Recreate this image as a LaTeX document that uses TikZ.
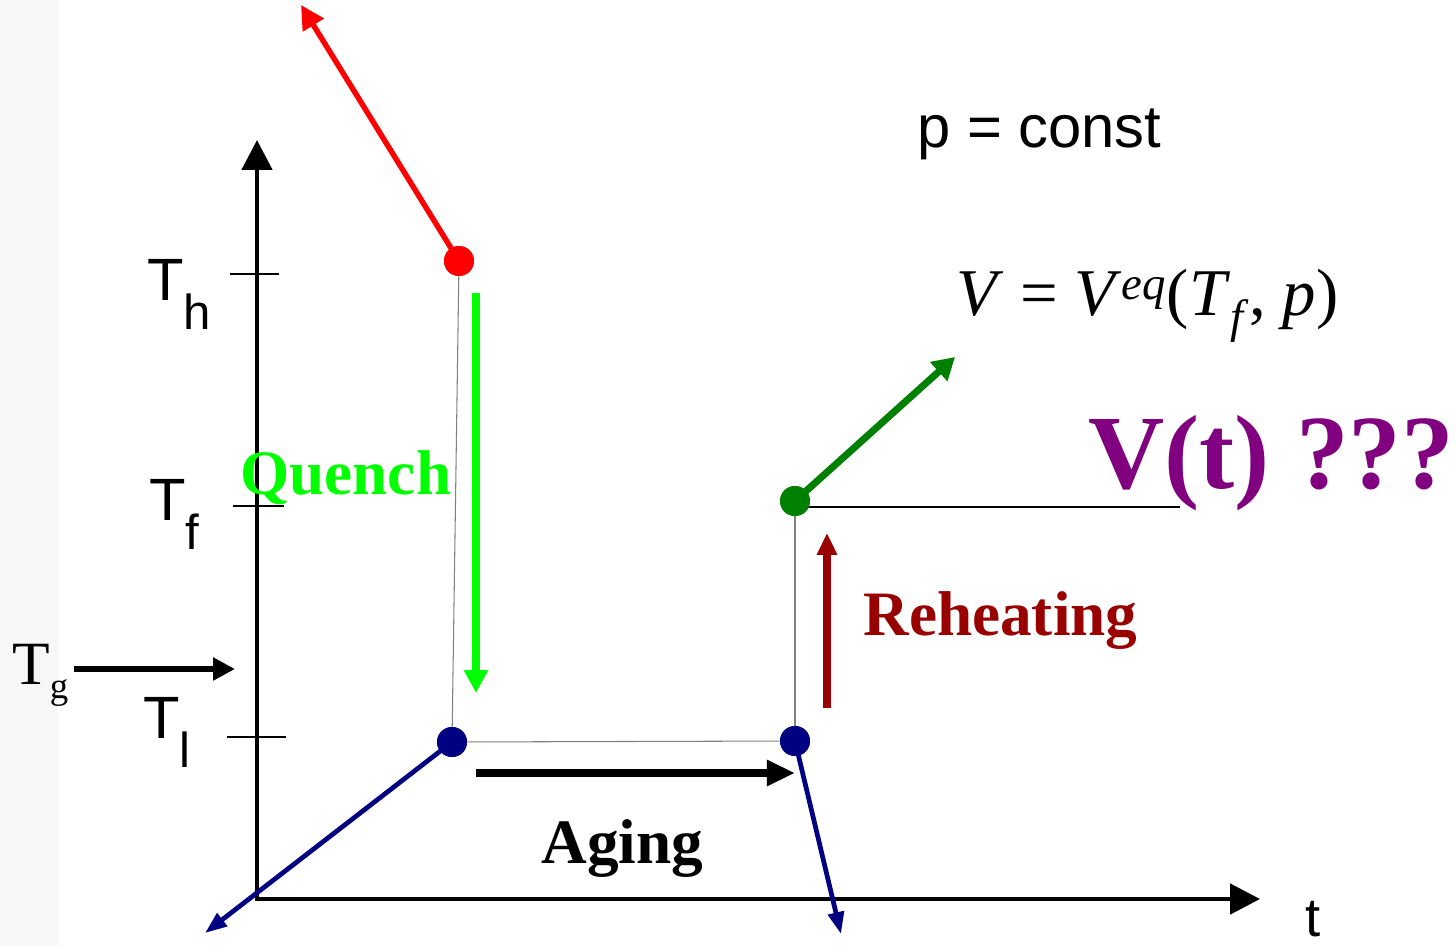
\documentclass[tikz,border=0pt]{standalone}
\usepackage{fontspec}
\setmainfont{Liberation Serif}
\setsansfont{Liberation Sans}
\usetikzlibrary{arrows.meta}
\definecolor{quenchgreen}{RGB}{0,255,0}
\definecolor{eqgreen}{RGB}{0,128,0}
\definecolor{agednavy}{RGB}{0,0,128}
\definecolor{reheatred}{RGB}{153,0,0}
\definecolor{vpurple}{RGB}{128,0,128}
\definecolor{stripgray}{RGB}{247,247,247}
\newcommand{\lowsub}[2]{#1\raisebox{-17pt}{\fontsize{28}{28}\selectfont #2}}

\begin{document}
\begin{tikzpicture}[x=0.02cm, y=-0.02cm,
  dot/.style={circle, fill=#1, inner sep=0pt, minimum size=0.6cm},
  guide/.style={gray, line width=0.6pt},
  tickmark/.style={black, line width=0.6pt},
  axisline/.style={line width=2.8pt, line cap=rect, -{Triangle[length=17pt,width=17pt]}},
  lbl/.style={font=\bfseries\fontsize{36}{36}\selectfont, inner sep=0pt, anchor=base west},
  templbl/.style={font=\sffamily\fontsize{34}{34}\selectfont, inner sep=0pt, anchor=base west}]
  \fill[white] (0,0) rectangle (1456,946);
  \fill[stripgray] (0,0) rectangle (58,946);
  \useasboundingbox (0,0) rectangle (1456,946);

  \coordinate (origin) at (257,899);
  \coordinate (yend) at (257,140);
  \coordinate (xend) at (1260,899);
  \draw[axisline] (origin) -- (yend);
  \draw[axisline] (origin) -- (xend);
  \node[templbl, font=\sffamily\fontsize{31}{31}\selectfont] (tlbl) at (1305,936) {t};

  \draw[tickmark] (230,274) -- (279,274);
  \draw[tickmark] (233,506) -- (284,506);
  \draw[tickmark] (227,737) -- (286,737);
  \node[templbl] (Th) at (147,300) {\lowsub{T}{h}};
  \node[templbl] (Tf) at (149,520) {\lowsub{T}{f}};
  \node[templbl] (Tl) at (143,738) {\lowsub{T}{l}};

  \node[font=\fontsize{35}{35}\selectfont, inner sep=0pt, anchor=base west] (Tg) at (12,684) {T\raisebox{-8pt}{\fontsize{21}{21}\selectfont g}};
  \coordinate (Tgtip) at (235,669);
  \draw[line width=3.4pt, -{Triangle[length=12.5pt,width=12.5pt]}] ([xshift=3pt]Tg.east |- Tgtip) -- (Tgtip);

  \node[dot=red] (hotdot) at (459,261) {};
  \node[dot=agednavy] (quenchdot) at (452,742) {};
  \node[dot=agednavy] (ageddot) at (795,741) {};
  \node[dot=eqgreen] (eqdot) at (795,501) {};
  \coordinate (hotend) at (301,5);
  \coordinate (quenchend) at (205,933);
  \coordinate (agedend) at (841,934);
  \coordinate (eqend) at (955,357);
  \coordinate (eqline) at (1180,507);

  \draw[guide] (hotdot) -- (quenchdot);
  \draw[guide] (quenchdot) -- (ageddot);
  \draw[guide] (ageddot) -- (eqdot);
  \draw[tickmark] (eqdot.center |- eqline) -- (eqline);

  \draw[red, line width=3.1pt, -{Triangle[length=13.5pt,width=13.5pt]}] (hotdot.center) -- (hotend);
  \draw[agednavy, line width=2.7pt, -{Triangle[length=12.5pt,width=9pt]}] (quenchdot.center) -- (quenchend);
  \draw[agednavy, line width=2.7pt, -{Triangle[length=12.5pt,width=9pt]}] (ageddot.center) -- (agedend);
  \draw[eqgreen, line width=4pt, -{Triangle[length=12.5pt,width=14pt]}] (eqdot.center) -- (eqend);
  \node[dot=red] at (hotdot) {};
  \node[dot=agednavy] at (quenchdot) {};
  \node[dot=agednavy] at (ageddot) {};
  \node[dot=eqgreen] at (eqdot) {};

  \coordinate (quenchtop) at (476,293);
  \coordinate (quenchtip) at (476,693);
  \coordinate (agestart) at (476,773);
  \coordinate (agetip) at (795,773);
  \coordinate (reheatbot) at (827,708);
  \coordinate (reheattip) at (827,533);
  \draw[quenchgreen, line width=4.5pt, -{Triangle[length=13pt,width=13pt]}] (quenchtop) -- (quenchtip);
  \draw[line width=4.5pt, -{Triangle[length=16pt,width=14pt]}] (agestart) -- (agetip);
  \draw[reheatred, line width=4.5pt, -{Triangle[length=12.5pt,width=11pt]}] (reheatbot) -- (reheattip);

  \node[lbl, text=quenchgreen] (quench) at (240,494) {Quench};
  \node[lbl] (aging) at (541,863) {Aging};
  \node[lbl, text=reheatred] (reheat) at (863,635) {Reheating};
  \node[lbl, text=vpurple, font=\bfseries\fontsize{60}{60}\selectfont] (vquery) at (1088,488) {V(t) ???};
  \node[inner sep=0pt, anchor=base west, font=\fontsize{38}{38}\selectfont] (veq) at (956,315) {\textit{V} = \textit{V}\textsuperscript{\textit{eq}}(\textit{T}\textsubscript{\textit{f}}, \textit{p})};
  \node[templbl] (pconst) at (917,147) {p = const};
\end{tikzpicture}
\end{document}
